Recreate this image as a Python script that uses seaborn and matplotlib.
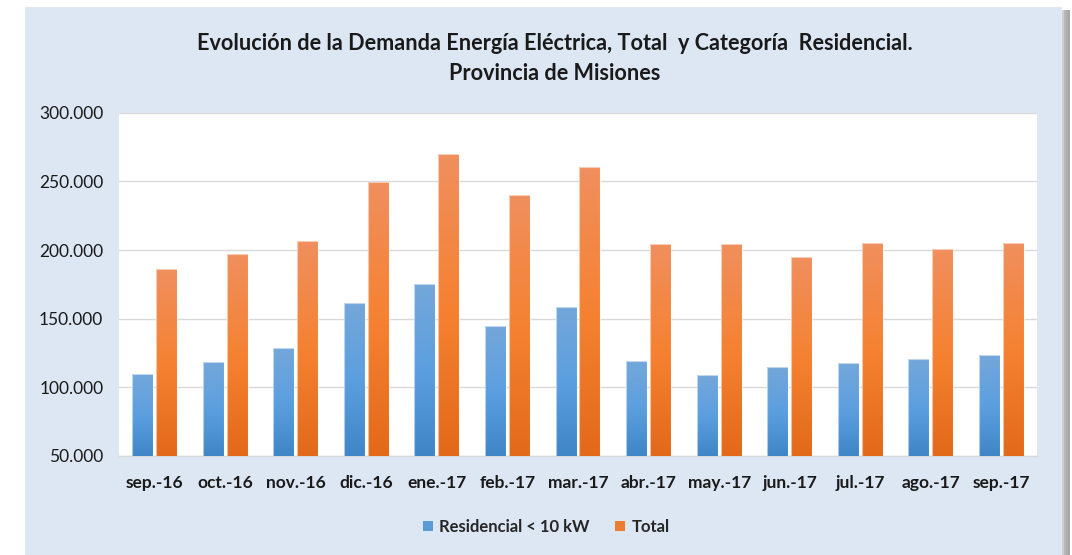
import numpy as np
import pandas as pd
import seaborn as sns
import matplotlib
matplotlib.use("Agg")
import matplotlib.pyplot as plt
from matplotlib.patches import Rectangle, Patch
from matplotlib.colors import LinearSegmentedColormap
from matplotlib.ticker import FuncFormatter, MultipleLocator, FixedLocator

# ---------------- data ----------------
months = ["sep.-16", "oct.-16", "nov.-16", "dic.-16", "ene.-17", "feb.-17", "mar.-17",
          "abr.-17", "may.-17", "jun.-17", "jul.-17", "ago.-17", "sep.-17"]
residencial = [110000, 118200, 128400, 161200, 175200, 144700, 158700,
               118900, 108800, 115000, 117500, 120600, 123500]
total = [186000, 196900, 206800, 249800, 269900, 240000, 260400,
         204400, 204400, 195100, 205300, 200500, 205300]
series_names = ["Residencial < 10 kW", "Total"]
title_line1 = "Evolución de la Demanda Energía Eléctrica, Total  y Categoría  Residencial."
title_line2 = "Provincia de Misiones"

df = pd.DataFrame({
    "mes": months * 2,
    "serie": [series_names[0]] * len(months) + [series_names[1]] * len(months),
    "valor": residencial + total,
})

# ---------------- style ----------------
sns.set_theme(style="white")
plt.rcParams['font.family'] = ['Lato', 'DejaVu Sans']

W, H = 1072, 555
fig = plt.figure(figsize=(W / 100, H / 100), dpi=100)
fig.patch.set_facecolor("white")

def fx(x):
    return x / W

def fy(y):
    return 1 - y / H

# panel shadow and panel
for i, a in enumerate([0.10, 0.18, 0.28, 0.38]):
    fig.patches.append(Rectangle((fx(1068 - 2 * i), fy(555)), fx(2 * i + 2), (555 - 10) / H,
                                 transform=fig.transFigure, facecolor="#7f7f7f", alpha=a,
                                 edgecolor="none", zorder=-3))
fig.patches.append(Rectangle((fx(25), fy(555)), fx(1061 - 25), (555 - 7) / H,
                             transform=fig.transFigure, facecolor="#DCE7F3",
                             edgecolor="#E3E8EE", linewidth=0.8, zorder=-2))

ax = fig.add_axes([fx(119.3), fy(456), fx(1036.7 - 119.3), (456 - 112.7) / H])
ax.set_zorder(2)
ax.set_facecolor("white")

blue_c = "#5B9BD5"
orange_c = "#ED7D31"
sns.barplot(data=df, x="mes", y="valor", hue="serie", order=months, hue_order=series_names,
            palette=[blue_c, orange_c], width=0.68, gap=0.125, ax=ax, legend=False,
            saturation=1, zorder=3)

ax.set_ylim(50000, 300000)
ax.set_xlim(-0.5, len(months) - 0.5)

# gradients
cmap_blue = LinearSegmentedColormap.from_list("b", ["#3F86C7", "#5C9FDF", "#74A7DA"])
cmap_orange = LinearSegmentedColormap.from_list("o", ["#E3691A", "#F58232", "#F08F5E"])
grad = np.linspace(0, 1, 256).reshape(-1, 1)
nb = len(months)
for i, p in enumerate(list(ax.patches)):
    cm = cmap_blue if i < nb else cmap_orange
    x0, y0 = p.get_x(), p.get_y()
    w, h = p.get_width(), p.get_height()
    im = ax.imshow(grad, cmap=cm, origin="lower", aspect="auto",
                   extent=[x0, x0 + w, 50000, y0 + h], zorder=4)
    im.set_clip_path(p)
    p.set_edgecolor((1, 1, 1, 0.55))
    p.set_linewidth(0.8)
    p.set_zorder(5)
    p.set_facecolor("none")
ax.set_ylim(50000, 300000)
ax.set_xlim(-0.5, len(months) - 0.5)
ax.set_aspect("auto")

# axes styling
ax.yaxis.set_major_locator(MultipleLocator(50000))
ax.yaxis.set_major_formatter(FuncFormatter(lambda v, pos: f"{int(v):,}".replace(",", ".")))
ax.grid(axis="y", color="#D9D9D9", linewidth=1.0, zorder=0)
ax.set_axisbelow(True)
for s in ["top", "right", "left"]:
    ax.spines[s].set_visible(False)
ax.spines["bottom"].set_color("#D9D9D9")
ax.spines["bottom"].set_linewidth(1.0)
ax.set_xlabel("")
ax.set_ylabel("")
ax.tick_params(axis="y", length=0, pad=11.5, labelsize=12.5, labelcolor="#1a1a1a")
ax.tick_params(axis="x", which="major", length=0, pad=14, labelsize=12.5, labelcolor="#1a1a1a")
ax.xaxis.set_minor_locator(FixedLocator(np.arange(-0.5, len(months), 1.0)))
ax.tick_params(axis="x", which="minor", length=5, color="#D9D9D9", width=1.0)
for lbl in ax.get_xticklabels():
    lbl.set_fontweight("bold")

# title
fig.text(fx(555), fy(43), title_line1, ha="center", va="center", fontsize=15.6,
         fontweight="bold", color="#1a1a1a")
fig.text(fx(555), fy(73), title_line2, ha="center", va="center", fontsize=15.6,
         fontweight="bold", color="#1a1a1a")

# legend
handles = [Patch(facecolor=blue_c, edgecolor="none"), Patch(facecolor=orange_c, edgecolor="none")]
fig.legend(handles, series_names, loc="center", bbox_to_anchor=(fx(546), fy(527)), ncol=2,
           frameon=False, handlelength=0.6, handleheight=0.6, handletextpad=0.4,
           columnspacing=1.5, prop={"weight": "bold", "size": 12})

fig.savefig("out.png", dpi=100, facecolor=fig.get_facecolor())
